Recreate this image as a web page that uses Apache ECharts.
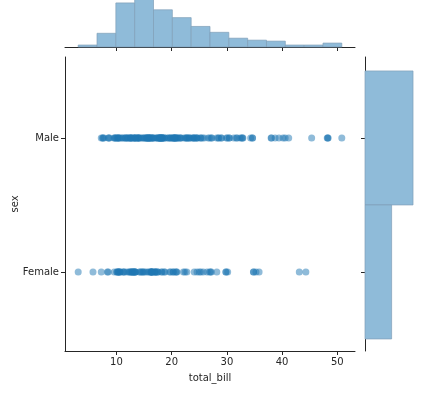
<!DOCTYPE html>
<html>
<head>
<meta charset="utf-8">
<script src="https://cdn.jsdelivr.net/npm/echarts@6/dist/echarts.min.js"></script>
<style>html,body{margin:0;padding:0;background:#fff}#c{width:427px;height:394px}</style>
</head>
<body>
<div id="c"></div>
<script>
// ---- data ----
const maleBills = [10.34,21.01,23.68,25.29,8.77,26.88,15.04,14.78,10.27,15.42,18.43,21.58,16.29,20.65,17.92,39.42,19.82,17.81,13.37,12.69,21.70,9.55,18.35,17.78,24.06,16.31,18.69,31.27,16.04,17.46,13.94,9.68,30.40,18.29,22.23,32.40,28.55,18.04,12.54,9.94,25.56,19.49,38.01,11.24,48.27,20.29,13.81,11.02,18.29,17.59,20.08,20.23,15.01,12.02,10.51,17.92,27.20,22.76,17.29,19.44,16.66,32.68,15.98,13.03,18.28,24.71,21.16,28.97,22.49,40.17,27.28,12.03,21.01,12.46,15.36,20.49,25.21,18.24,14.00,38.07,23.95,29.93,11.69,14.26,15.95,8.52,22.82,19.08,16.00,34.30,41.19,9.78,7.51,14.07,13.13,17.26,24.55,19.77,48.17,16.49,21.50,12.66,13.81,24.52,20.76,31.71,50.81,15.81,7.25,31.85,16.82,32.90,17.89,14.48,34.63,34.65,23.33,45.35,23.17,40.55,20.69,30.46,23.10,15.69,28.44,15.48,16.58,7.56,10.34,13.51,18.71,20.53,26.59,38.73,24.27,30.06,25.89,48.33,28.15,11.59,7.74,12.16,8.58,13.42,20.45,13.28,24.01,15.69,11.61,10.77,15.53,10.07,12.60,32.83,29.03,22.67,17.82];
const femaleBills = [16.99,24.59,35.26,14.83,10.33,16.97,20.29,15.77,19.65,15.06,20.69,16.93,10.29,34.81,26.41,16.45,3.07,17.07,26.86,25.28,14.73,10.07,34.83,5.75,16.32,22.75,11.35,15.38,44.30,22.42,20.92,14.31,7.25,25.71,17.31,10.65,12.43,24.08,13.42,12.48,29.80,14.52,11.38,20.27,11.17,12.26,18.26,8.51,10.33,14.15,13.16,17.47,27.05,16.43,8.35,18.64,11.87,29.85,25.00,13.39,16.21,17.51,10.59,10.63,9.60,20.90,18.15,19.81,43.11,13.00,12.74,13.00,16.40,16.47,12.76,13.27,28.17,12.90,30.14,13.42,15.98,16.27,10.09,22.12,35.83,27.18,18.78];
const binEdges = [3.07,6.48,9.89,13.30,16.71,20.12,23.53,26.94,30.35,33.76,37.17,40.58,43.99,47.40,50.81];
const binCounts = [2,14,45,49,38,30,21,15,9,7,6,2,2,4];
const sexCategories = ['Male','Female'];
const sexPositions = [1,0];
const sexCounts = [157,87];
const xTicks = [10,20,30,40,50];

// ---- build ----
const FONT = 'DejaVu Sans';
const TXT = '#262626';
const AX = '#262626';
const histFill = '#8fbbd9';
const histStroke = '#7f9fb8';

const topHist = binCounts.map((c,i)=>[binEdges[i], binEdges[i+1], c]);
const sideHist = sexCounts.map((c,i)=>[c, sexPositions[i]]);
const posOf = {}; sexCategories.forEach((s,i)=>posOf[sexPositions[i]] = s);

const X_MIN = 0.68, X_MAX = 53.2, Y_MIN = -0.59, Y_MAX = 1.604;
const line = {show:true, onZero:false, lineStyle:{color:AX, width:1}};

const chart = echarts.init(document.getElementById('c'), null, {renderer:'canvas'});
chart.setOption({
  animation:false,
  textStyle:{fontFamily:FONT},
  grid:[
    {left:65, top:57, width:290, height:294, containLabel:false, outerBoundsMode:'none'},
    {left:65, top:0, width:290, height:47, containLabel:false, outerBoundsMode:'none'},
    {left:365, top:57, width:52, height:294, containLabel:false, outerBoundsMode:'none'}
  ],
  xAxis:[
    {gridIndex:0, type:'value', min:X_MIN, max:X_MAX, position:'bottom',
     name:'total_bill', nameLocation:'middle', nameGap:22, nameMoveOverlap:false,
     nameTextStyle:{fontSize:10, color:TXT, fontFamily:FONT},
     axisLine:line,
     axisTick:{show:true, customValues:xTicks, length:4, lineStyle:{color:AX}},
     axisLabel:{show:true, customValues:xTicks, fontSize:10, color:TXT, margin:6, fontFamily:FONT},
     splitLine:{show:false}},
    {gridIndex:1, type:'value', min:X_MIN, max:X_MAX, position:'bottom',
     axisLine:line,
     axisTick:{show:true, customValues:xTicks, length:4, lineStyle:{color:AX}},
     axisLabel:{show:false}, splitLine:{show:false}},
    {gridIndex:2, type:'value', min:0, max:170, show:false}
  ],
  yAxis:[
    {gridIndex:0, type:'value', min:Y_MIN, max:Y_MAX, position:'left',
     name:'sex', nameLocation:'middle', nameGap:45, nameRotate:90, nameMoveOverlap:false,
     nameTextStyle:{fontSize:10, color:TXT, fontFamily:FONT},
     axisLine:line,
     axisTick:{show:true, customValues:sexPositions, length:4, lineStyle:{color:AX}},
     axisLabel:{show:true, customValues:sexPositions, fontSize:10, color:TXT, margin:6, fontFamily:FONT,
       formatter:(v)=>posOf[Math.round(v)]},
     splitLine:{show:false}},
    {gridIndex:1, type:'value', min:0, max:48, show:false},
    {gridIndex:2, type:'value', min:Y_MIN, max:Y_MAX, position:'left',
     axisLine:line,
     axisTick:{show:true, customValues:sexPositions, length:4, lineStyle:{color:AX}},
     axisLabel:{show:false}, splitLine:{show:false}}
  ],
  series:[
    {type:'scatter', xAxisIndex:0, yAxisIndex:0, symbolSize:7,
     itemStyle:{color:'#1f77b4', opacity:0.5},
     data: maleBills.map(v=>[v, sexPositions[0]])},
    {type:'scatter', xAxisIndex:0, yAxisIndex:0, symbolSize:7,
     itemStyle:{color:'#1f77b4', opacity:0.5},
     data: femaleBills.map(v=>[v, sexPositions[1]])},
    {type:'custom', xAxisIndex:1, yAxisIndex:1, data:topHist,
     encode:{x:[0,1], y:2},
     renderItem:(params, api)=>{
       const p0 = api.coord([api.value(0), api.value(2)]);
       const p1 = api.coord([api.value(1), 0]);
       return {type:'rect', shape:{x:p0[0], y:p0[1], width:p1[0]-p0[0], height:p1[1]-p0[1]},
         style:{fill:histFill, stroke:histStroke, lineWidth:0.7}};
     }},
    {type:'custom', xAxisIndex:2, yAxisIndex:2, data:sideHist,
     encode:{x:0, y:1},
     renderItem:(params, api)=>{
       const p0 = api.coord([0, api.value(1)+0.5]);
       const p1 = api.coord([api.value(0), api.value(1)-0.5]);
       return {type:'rect', shape:{x:p0[0], y:p0[1], width:p1[0]-p0[0], height:p1[1]-p0[1]},
         style:{fill:histFill, stroke:histStroke, lineWidth:0.7}};
     }}
  ]
});
</script>
</body>
</html>
